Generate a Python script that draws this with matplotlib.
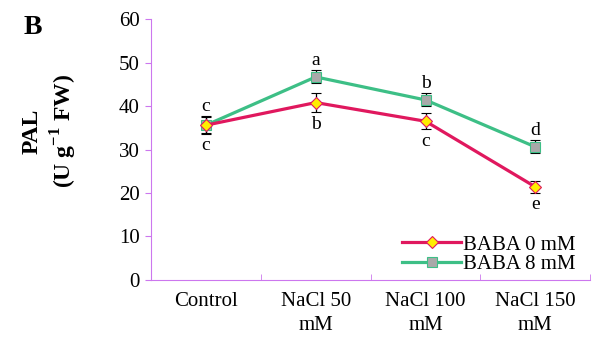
import numpy as np
import matplotlib

matplotlib.use("Agg")
import matplotlib.pyplot as plt
from matplotlib.lines import Line2D

plt.rcParams["font.family"] = ["Liberation Serif", "DejaVu Serif"]
plt.rcParams["mathtext.fontset"] = "custom"
plt.rcParams["mathtext.rm"] = "Liberation Serif"
plt.rcParams["mathtext.bf"] = "Liberation Serif:bold"

categories = ["Control", "NaCl 50\nmM", "NaCl 100\nmM", "NaCl 150\nmM"]
baba0 = [35.6, 40.8, 36.5, 21.4]
baba0_err = [1.8, 2.2, 1.8, 1.3]
baba0_letters = ["c", "b", "c", "e"]
baba8 = [35.6, 46.7, 41.4, 30.6]
baba8_err = [2.0, 1.5, 1.5, 1.5]
baba8_letters = ["c", "a", "b", "d"]

red = "#e0185e"
green = "#3dbf86"
spine_col = "#cc77ee"

fig = plt.figure(figsize=(5.96, 3.41), dpi=100)
ax = fig.add_axes([0.2534, 0.179, 0.737, 0.765])

x = np.arange(len(categories))
ax.errorbar(x, baba0, yerr=baba0_err, color=red, lw=2.3, marker="D", ms=6.5,
            mfc="#ffee00", mec=red, mew=0.8, ecolor="black", elinewidth=0.9,
            capsize=3.5, capthick=1.2, zorder=3)
ax.errorbar(x, baba8, yerr=baba8_err, color=green, lw=2.3, marker="s", ms=7.5,
            mfc="#a9a9a9", mec=green, mew=0.8, ecolor="black", elinewidth=0.9,
            capsize=3.5, capthick=1.2, zorder=2)

for i in range(len(categories)):
    ax.text(x[i], baba8[i] + baba8_err[i] + 0.4, baba8_letters[i],
            ha="center", va="bottom", fontsize=14)
    ax.text(x[i], baba0[i] - baba0_err[i] - 0.9, baba0_letters[i],
            ha="center", va="top", fontsize=14)

ax.set_xlim(-0.5, 3.5)
ax.set_ylim(0, 60)
ax.set_yticks(range(0, 61, 10))
ax.set_xticks(x)
ax.set_xticklabels(categories, fontsize=15, linespacing=1.3)
ax.set_xticks(np.arange(-0.5, 3.6, 1.0), minor=True)
ax.tick_params(axis="x", which="major", length=0, pad=9)
ax.tick_params(axis="x", which="minor", direction="in", length=4, color=spine_col)
ax.tick_params(axis="y", labelsize=15, length=4, color=spine_col, pad=4)

for side in ["top", "right"]:
    ax.spines[side].set_visible(False)
for side in ["left", "bottom"]:
    ax.spines[side].set_color(spine_col)

ax.set_ylabel("PAL\n(U g$^{\\mathbf{-1}}$ FW)", fontsize=17, fontweight="bold",
              linespacing=1.25)
ax.yaxis.set_label_coords(-0.165, 0.57)

handles = [
    Line2D([], [], color=red, lw=2.3, marker="D", ms=6.5, mfc="#ffee00", mec=red, mew=0.8),
    Line2D([], [], color=green, lw=2.3, marker="s", ms=7.5, mfc="#a9a9a9", mec=green, mew=0.8),
]
ax.legend(handles, ["BABA 0 mM", "BABA 8 mM"], loc="lower right", frameon=False,
          fontsize=15, handlelength=2.8, handletextpad=0.1, labelspacing=0.0,
          borderaxespad=0.0, bbox_to_anchor=(0.985, -0.01))

fig.text(0.04, 0.9, "B", fontsize=20, fontweight="bold")

fig.savefig("out.png", dpi=100)
